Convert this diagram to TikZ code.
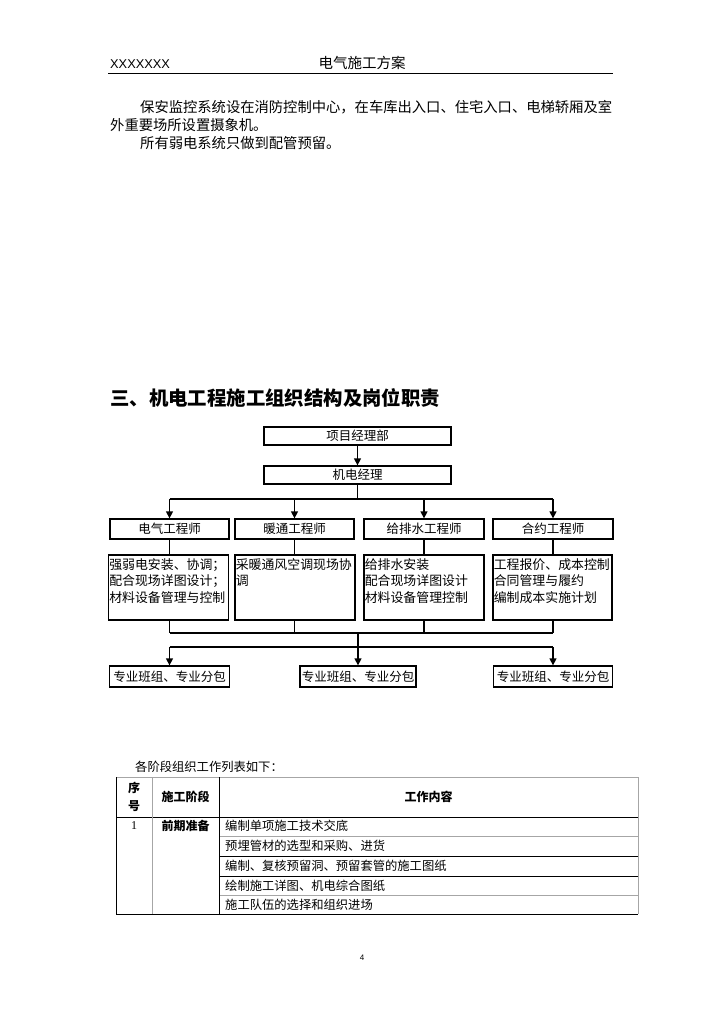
\documentclass[tikz,border=0pt]{standalone}
\usepackage{fontspec}
\setmainfont{Noto Sans CJK SC}
\newfontfamily\latinsans{Liberation Sans}
\newfontfamily\latinserif{Liberation Serif}
\usetikzlibrary{arrows.meta}
\begin{document}
\begin{tikzpicture}[x=1pt,y=-1pt,
  txt/.style={inner sep=0pt},
  body/.style={txt,anchor=west,font=\fontsize{14.3}{16}\selectfont},
  box/.style={draw,line width=1.3pt,inner sep=0pt,font=\fontsize{12.5}{14}\selectfont},
  ln/.style={line width=1.3pt},
  arr/.style={line width=1.3pt,-{Triangle[length=7pt,width=7pt]}},
  boxtxt/.style={txt,anchor=north west,align=left,font=\fontsize{12.9}{16.5}\selectfont},
  tl/.style={line width=1pt,black},
  tg/.style={line width=1pt,gray!70},
  th/.style={txt,font=\bfseries\fontsize{12}{18.5}\selectfont,align=center},
  td/.style={txt,anchor=west,font=\fontsize{12.3}{14}\selectfont}]
\useasboundingbox (0,0) rectangle (724,1024);
% page header
\node[txt,anchor=west,font=\latinsans\fontsize{12.8}{14}\selectfont] (hx) at (110,64) {XXXXXXX};
\node[txt,font=\fontsize{14.5}{16}\selectfont] (ht) at (362,63) {电气施工方案};
\draw[line width=0.9pt] (108,73) -- (613,73);
% body text
\node[body] (p1) at (140,107) {保安监控系统设在消防控制中心，在车库出入口、住宅入口、电梯轿厢及室};
\node[body] (p2) at (110,125) {外重要场所设置摄象机。};
\node[body] (p3) at (140,143) {所有弱电系统只做到配管预留。};
% section title
\node[txt,anchor=west,font=\bfseries\fontsize{19.4}{22}\selectfont] (title) at (110,398) {三、机电工程施工组织结构及岗位职责};
% org chart
\node[box,minimum width=187pt,minimum height=18pt] (pm) at (357.5,436) {项目经理部};
\node[box,minimum width=187pt,minimum height=18pt] (jm) at (357.5,475) {机电经理};
\draw[arr] (pm.south) -- (jm.north);
\node[box,minimum width=119pt,minimum height=20pt] (e1) at (169.5,529) {电气工程师};
\node[box,minimum width=119pt,minimum height=20pt] (e2) at (294.5,529) {暖通工程师};
\node[box,minimum width=120pt,minimum height=20pt] (e3) at (424,529) {给排水工程师};
\node[box,minimum width=120pt,minimum height=20pt] (e4) at (553,529) {合约工程师};
\coordinate (busA) at (0,499);
\draw[ln] (jm.south) -- (jm.south |- busA);
\draw[ln] (e1.north |- busA) -- (e4.north |- busA);
\foreach \n in {e1,e2,e3,e4} \draw[arr] (\n.north |- busA) -- (\n.north);
\node[box,minimum width=120pt,minimum height=65pt] (d1) at (168.5,587.5) {};
\node[box,minimum width=120pt,minimum height=65pt] (d2) at (295,587.5) {};
\node[box,minimum width=120pt,minimum height=65pt] (d3) at (424,587.5) {};
\node[box,minimum width=119pt,minimum height=65pt] (d4) at (552.5,587.5) {};
\node[boxtxt] (d1t) at ([shift={(1.2pt,-4pt)}]d1.north west) {强弱电安装、协调；\\配合现场详图设计；\\材料设备管理与控制};
\node[boxtxt] (d2t) at ([shift={(1.2pt,-4pt)}]d2.north west) {采暖通风空调现场协\\调};
\node[boxtxt] (d3t) at ([shift={(1.2pt,-4pt)}]d3.north west) {给排水安装\\配合现场详图设计\\材料设备管理控制};
\node[boxtxt] (d4t) at ([shift={(1.2pt,-4pt)}]d4.north west) {工程报价、成本控制\\合同管理与履约\\编制成本实施计划};
\foreach \a/\b in {e1/d1,e2/d2,e3/d3,e4/d4} \draw[ln] (\a.south) -- (\a.south |- \b.north);
\coordinate (busB) at (0,633);
\coordinate (busC) at (0,647);
\foreach \a/\b in {e1/d1,e2/d2,e3/d3,e4/d4} \draw[ln] (\a.south |- \b.south) -- (\a.south |- busB);
\draw[ln] (e1.south |- busB) -- (e4.south |- busB);
\node[box,minimum width=120pt,minimum height=21pt] (b1) at (169.5,676.5) {专业班组、专业分包};
\node[box,minimum width=116pt,minimum height=21pt] (b2) at (358,676.5) {专业班组、专业分包};
\node[box,minimum width=119pt,minimum height=21pt] (b3) at (553,676.5) {专业班组、专业分包};
\draw[ln] (b1.north |- busC) -- (b3.north |- busC);
\draw[arr] (b2.north |- busB) -- (b2.north);
\draw[arr] (b1.north |- busC) -- (b1.north);
\draw[arr] (b3.north |- busC) -- (b3.north);
% table
\node[td] (cap) at (135,767) {各阶段组织工作列表如下：};
\draw[tg] (116,777) -- (638,777);
\draw[tl] (116,817) -- (638,817);
\draw[tg] (219,836) -- (638,836);
\draw[tl] (219,856) -- (638,856);
\draw[tl] (219,876) -- (638,876);
\draw[tg] (219,895) -- (638,895);
\draw[tl] (116,914) -- (638,914);
\draw[tl] (116,777) -- (116,914);
\draw[tg] (152,777) -- (152,914);
\draw[tl] (219,777) -- (219,914);
\draw[tg] (638,777) -- (638,914);
\node[th] (h1) at (134,797) {序\\号};
\node[th] (h2) at (185.5,797) {施工阶段};
\node[th] (h3) at (428.5,797) {工作内容};
\node[txt,font=\latinserif\fontsize{12}{14}\selectfont] (r1) at (134,826) {1};
\node[th] (r2) at (185.5,826) {前期准备};
\node[td] (c1) at (225,826) {编制单项施工技术交底};
\node[td] (c2) at (225,846) {预埋管材的选型和采购、进货};
\node[td] (c3) at (225,866) {编制、复核预留洞、预留套管的施工图纸};
\node[td] (c4) at (225,885.5) {绘制施工详图、机电综合图纸};
\node[td] (c5) at (225,904.5) {施工队伍的选择和组织进场};
% page number
\node[txt,font=\latinsans\fontsize{8}{10}\selectfont] (pg) at (362,958) {4};
\end{tikzpicture}
\end{document}
